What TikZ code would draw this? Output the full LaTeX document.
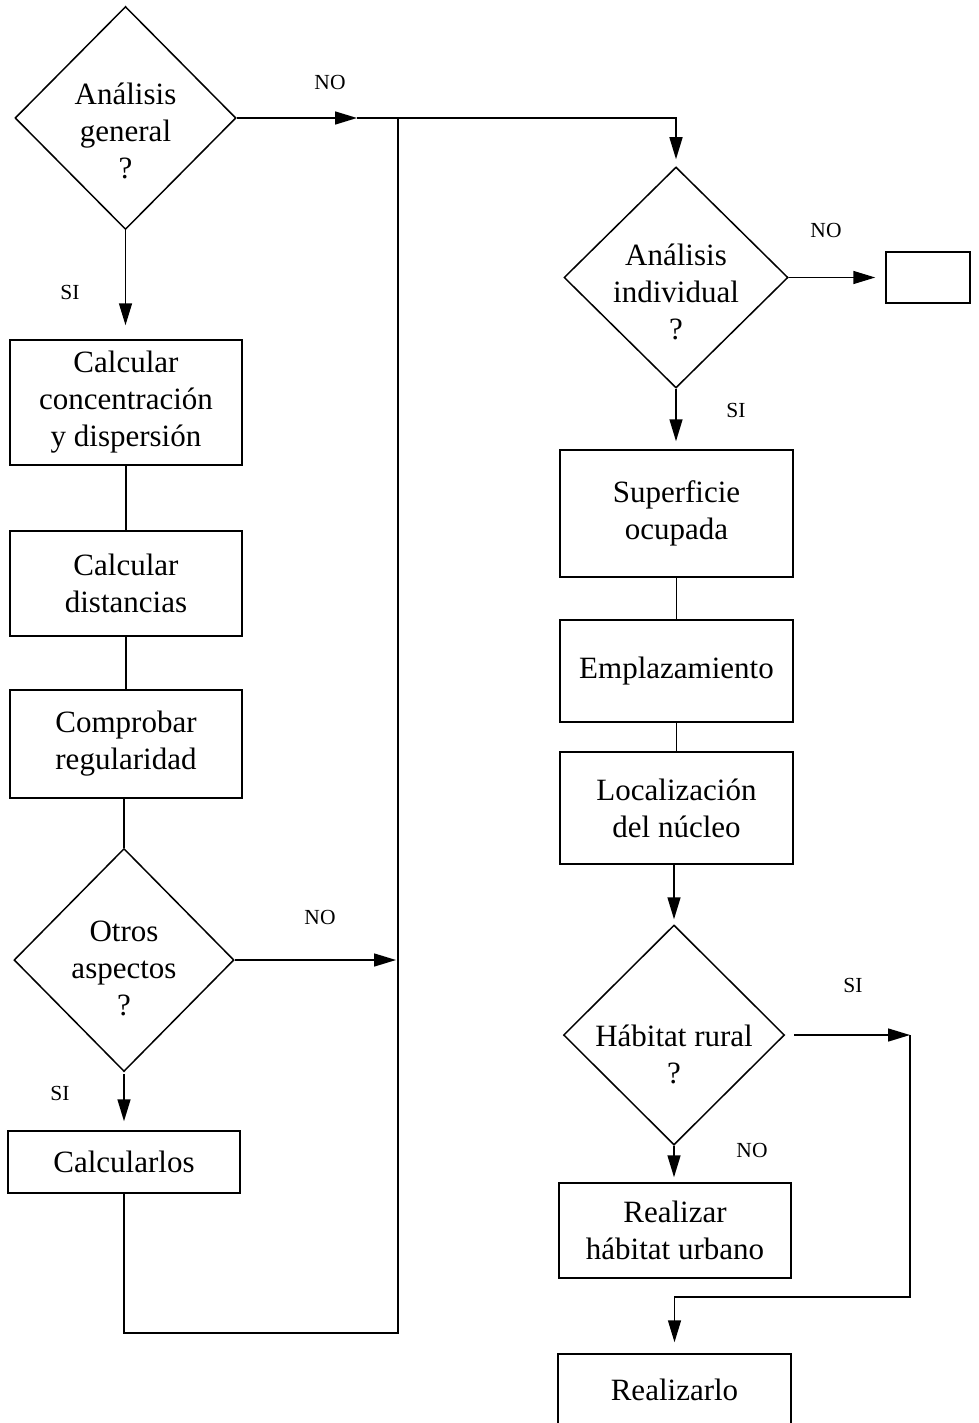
\documentclass[tikz,border=0pt]{standalone}
\usepackage{fontspec}
\setmainfont{Liberation Serif}
\usetikzlibrary{shapes.geometric,arrows.meta}
\newcommand\boxfont{\fontsize{31}{37}\selectfont}
\newcommand\lblfont{\fontsize{21.5}{26}\selectfont}
\begin{document}
\begin{tikzpicture}[x=1pt,y=-1pt,
  line width=1.5pt,
  stepbox/.style={draw, rectangle, inner sep=0pt, align=center, font=\boxfont},
  decision/.style={draw, diamond, inner sep=0pt},
  dtext/.style={align=center, font=\boxfont, inner sep=0pt},
  lbl/.style={font=\lblfont, inner sep=0pt},
  arr/.style={-{Triangle[length=22pt,width=13pt]}}]
\useasboundingbox (0,0) rectangle (978,1423);
\clip (0,0) rectangle (978,1423);

% left column
\node[decision, minimum width=221pt, minimum height=223pt] (d1) at (125.5,118) {};
\node[dtext] (d1t) at (125.5,131) {Análisis\\general\\?};
\node[stepbox, minimum width=232pt, minimum height=125pt] (b1) at (126,402.5)
  {Calcular\\concentración\\y dispersión};
\node[stepbox, minimum width=232pt, minimum height=105pt] (b2) at (126,583.5)
  {Calcular\\distancias};
\node[stepbox, minimum width=232pt, minimum height=108pt] (b3) at (126,744)
  {Comprobar\\regularidad};
\node[decision, minimum width=220pt, minimum height=223pt] (d2) at (124,960) {};
\node[dtext] (d2t) at (124,968) {Otros\\aspectos\\?};
\node[stepbox, minimum width=232pt, minimum height=62pt] (b4) at (124,1162)
  {Calcularlos};

% right column
\node[decision, minimum width=224pt, minimum height=221pt] (d3) at (676,277.5) {};
\node[dtext] (d3t) at (676,292) {Análisis\\individual\\?};
\node[stepbox, minimum width=84pt, minimum height=51pt] (eb) at (928,277.5) {};
\node[stepbox, minimum width=233pt, minimum height=127pt] (b5) at (676.5,513.5)
  {Superficie\\ocupada};
\node[stepbox, minimum width=233pt, minimum height=102pt] (b6) at (676.5,671)
  {Emplazamiento};
\node[stepbox, minimum width=233pt, minimum height=112pt] (b7) at (676.5,808)
  {Localización\\del núcleo};
\node[decision, minimum width=221pt, minimum height=220pt] (d4) at (674,1035) {};
\node[dtext] (d4t) at (674,1054) {Hábitat rural\\?};
\node[stepbox, minimum width=232pt, minimum height=95pt] (b8) at (675,1230.5)
  {Realizar\\hábitat urbano};
\node[stepbox, minimum width=233pt, minimum height=72pt] (b9) at (674.5,1390)
  {Realizarlo};

% junction points
\coordinate (a1) at (357,118);
\coordinate (t1) at (398,118);
\coordinate (m1) at (398,960);
\coordinate (c1) at (398,1333);
\coordinate (r1) at (910,1035);
\coordinate (r2) at (910,1297);

% connectors, left column
\draw[arr] (d1.east) -- (a1);
\draw[arr, shorten >=7pt] (a1) -| (d3.north);
\draw[arr, shorten >=14pt] (d1.south) -- (d1.south |- b1.north);
\draw (b1.south) -- (b2.north);
\draw (b2.south) -- (b3.north);
\draw (d2.north |- b3.south) -- (d2.north);
\draw[arr, shorten >=2pt] (d2.east) -- (m1);
\draw[arr, shorten <=2pt, shorten >=9pt] (d2.south) -- (b4.north);
\draw (b4.south) |- (c1) -- (t1);

% connectors, right column
\draw[arr, shorten >=10pt] (d3.east) -- (eb.west);
\draw[arr, shorten >=8pt] (d3.south) -- (d3.south |- b5.north);
\draw (b5.south) -- (b6.north);
\draw (b6.south) -- (b7.north);
\draw[arr, shorten >=5pt] (d4.north |- b7.south) -- (d4.north);
\draw[arr, shorten >=5pt] (d4.south) -- (d4.south |- b8.north);
\draw[arr, shorten <=9pt] (d4.east) -- (r1);
\draw[arr, shorten >=11pt] (r1) -- (r2) -| (b9.north);

% branch labels
\node[lbl] (l1) at (330,82) {NO};
\node[lbl] (l2) at (70,292) {SI};
\node[lbl] (l3) at (826,230) {NO};
\node[lbl] (l4) at (736,410) {SI};
\node[lbl] (l5) at (320,917) {NO};
\node[lbl] (l6) at (60,1093) {SI};
\node[lbl] (l7) at (853,985) {SI};
\node[lbl] (l8) at (752,1150) {NO};
\end{tikzpicture}
\end{document}
